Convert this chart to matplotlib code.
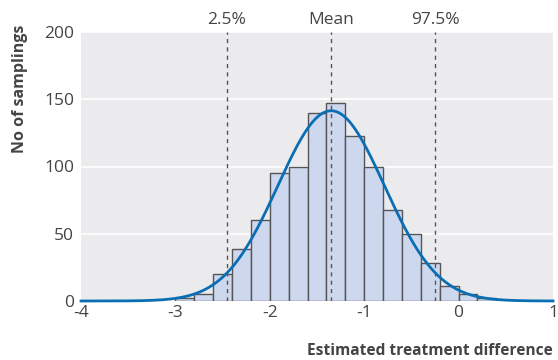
import numpy as np
import matplotlib.pyplot as plt

plt.rcParams['font.family'] = ['Open Sans', 'DejaVu Sans']

# histogram of bootstrap estimates (bin width 0.2)
bin_left = [-3.0, -2.8, -2.6, -2.4, -2.2, -2.0, -1.8, -1.6, -1.4, -1.2,
            -1.0, -0.8, -0.6, -0.4, -0.2, 0.0, 0.2]
counts = [2, 5, 20, 39, 60, 95, 100, 140, 147, 123,
          100, 68, 50, 28, 11, 5, 2]
bin_width = 0.2

# fitted normal curve
mean_est = -1.35
sd_est = 0.564
n_samplings = 1000

ref_lines = [-2.457, -1.352, -0.247]
ref_labels = ['2.5%', 'Mean', '97.5%']

fig = plt.figure(figsize=(5.58, 3.6), dpi=100)
ax = fig.add_axes([81 / 558, 1 - 301 / 360, (553 - 81) / 558, (301 - 32) / 360])
ax.set_facecolor('#ebebee')

ax.bar(bin_left, counts, width=bin_width, align='edge', color='#cdd8ee',
       edgecolor='#555555', linewidth=1.0, zorder=2)

xs = np.linspace(-4, 1, 400)
ys = n_samplings * bin_width / (sd_est * np.sqrt(2 * np.pi)) * np.exp(-0.5 * ((xs - mean_est) / sd_est) ** 2)
ax.plot(xs, ys, color='#0a6eb4', linewidth=2.0, zorder=4, clip_on=False)

for xv, lab in zip(ref_lines, ref_labels):
    ax.axvline(xv, color='#555555', linestyle=(0, (3, 3)), linewidth=1.0, zorder=3)
    ax.text(xv, 203, lab, ha='center', va='bottom', fontsize=12.5, color='#444444')

ax.set_xlim(-4, 1)
ax.set_ylim(0, 200)
ax.set_xticks([-4, -3, -2, -1, 0, 1])
ax.set_xticklabels(['-4', '-3', '-2', '-1', '0', '1'])
ax.set_yticks([0, 50, 100, 150, 200])
ax.tick_params(length=0, labelsize=12.5, labelcolor='#444444')
ax.tick_params(axis='x', pad=3)
ax.tick_params(axis='y', pad=5)
ax.yaxis.grid(True, color='white', linewidth=1.2, zorder=1)
ax.set_axisbelow(True)
for s in ax.spines.values():
    s.set_visible(False)

fig.text(553 / 558, 1 - 351 / 360, 'Estimated treatment difference', ha='right', va='center',
         fontsize=11.2, fontweight='bold', color='#444444')
fig.text(20 / 558, 1 - 25 / 360, 'No of samplings', ha='center', va='top', rotation=90,
         fontsize=11.5, fontweight='bold', color='#444444')

fig.savefig('out.png', dpi=100)
